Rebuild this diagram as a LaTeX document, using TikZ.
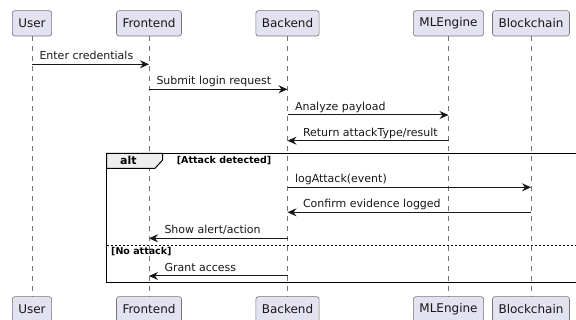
\documentclass[tikz,border=0pt]{standalone}
\usepackage{fontspec}
\setmainfont{DejaVu Sans}
\usetikzlibrary{arrows.meta}
\definecolor{partfill}{HTML}{E2E2F0}
\definecolor{ink}{HTML}{181818}
\definecolor{tabfill}{HTML}{EEEEEE}
\begin{document}
\begin{tikzpicture}[x=1pt,y=-1pt,
  part/.style={draw=ink!60, line width=0.6pt, fill=partfill, rounded corners=2.5pt,
    inner xsep=6pt, inner ysep=0pt, minimum height=25.3pt,
    font=\fontsize{12}{14}\selectfont, text=ink},
  life/.style={draw=ink!60, line width=0.5pt, dash pattern=on 5pt off 5pt},
  msg/.style={draw=ink, line width=1pt, -{Stealth[length=9pt,width=8pt,inset=3pt]}},
  lbl/.style={font=\fontsize{11}{13}\selectfont, anchor=base west, inner sep=0pt, text=ink},
  guard/.style={font=\bfseries\fontsize{9.5}{11}\selectfont, anchor=base west, inner sep=0pt},
  opname/.style={font=\bfseries\fontsize{11}{13}\selectfont, anchor=base, inner sep=0pt},
]
\useasboundingbox (0,0) rectangle (576,320);
\clip (0,0) rectangle (576,320);

% participants, head and foot
\node[part] (u1) at (32,23.35) {User};
\node[part] (f1) at (149,23.35) {Frontend};
\node[part] (b1) at (287.5,23.35) {Backend};
\node[part] (m1) at (448.5,23.35) {MLEngine};
\node[part] (c1) at (531,23.35) {Blockchain};
\node[part] (u2) at (32,309.35) {User};
\node[part] (f2) at (149,309.35) {Frontend};
\node[part] (b2) at (287.5,309.35) {Backend};
\node[part] (m2) at (448.5,309.35) {MLEngine};
\node[part] (c2) at (531,309.35) {Blockchain};

% lifelines
\foreach \p in {u,f,b,m,c}
  \draw[life] (\p1.south) -- (\p2.north);

% alt fragment
\draw[draw=black, line width=1pt, fill=tabfill]
  (106.7,153.3) -- (162.7,153.3) -- (162.7,160) -- (155,168.3) -- (106.7,168.3) -- cycle;
\draw[line width=1.5pt] (106.7,153.3) rectangle (600,282.7);
\draw[line width=1pt, dash pattern=on 2pt off 2pt] (106.7,245.7) -- (600,245.7);
\node[opname] (alt) at (128.3,164.5) {alt};
\node[guard] (g1) at (176.7,164) {[Attack detected]};
\node[guard] (g2) at (111,254.5) {[No attack]};

% messages
\draw[msg] (u1 |- 0,64.3) -- node[lbl, pos=0, xshift=7pt, yshift=4.5pt] {Enter credentials} (f1 |- 0,64.3);
\draw[msg] (f1 |- 0,89.3) -- node[lbl, pos=0, xshift=7pt, yshift=4.5pt] {Submit login request} (b1 |- 0,89.3);
\draw[msg] (b1 |- 0,115) -- node[lbl, pos=0, xshift=7pt, yshift=4.5pt] {Analyze payload} (m1 |- 0,115);
\draw[msg] (m1 |- 0,140.7) -- node[lbl, pos=1, xshift=15pt, yshift=4.5pt] {Return attackType/result} (b1 |- 0,140.7);
\draw[msg] (b1 |- 0,187.3) -- node[lbl, pos=0, xshift=7pt, yshift=4.5pt] {logAttack(event)} (c1 |- 0,187.3);
\draw[msg] (c1 |- 0,212.3) -- node[lbl, pos=1, xshift=15pt, yshift=4.5pt] {Confirm evidence logged} (b1 |- 0,212.3);
\draw[msg] (b1 |- 0,238.3) -- node[lbl, pos=1, xshift=15pt, yshift=4.5pt] {Show alert/action} (f1 |- 0,238.3);
\draw[msg] (b1 |- 0,276) -- node[lbl, pos=1, xshift=15pt, yshift=4.5pt] {Grant access} (f1 |- 0,276);
\end{tikzpicture}
\end{document}
